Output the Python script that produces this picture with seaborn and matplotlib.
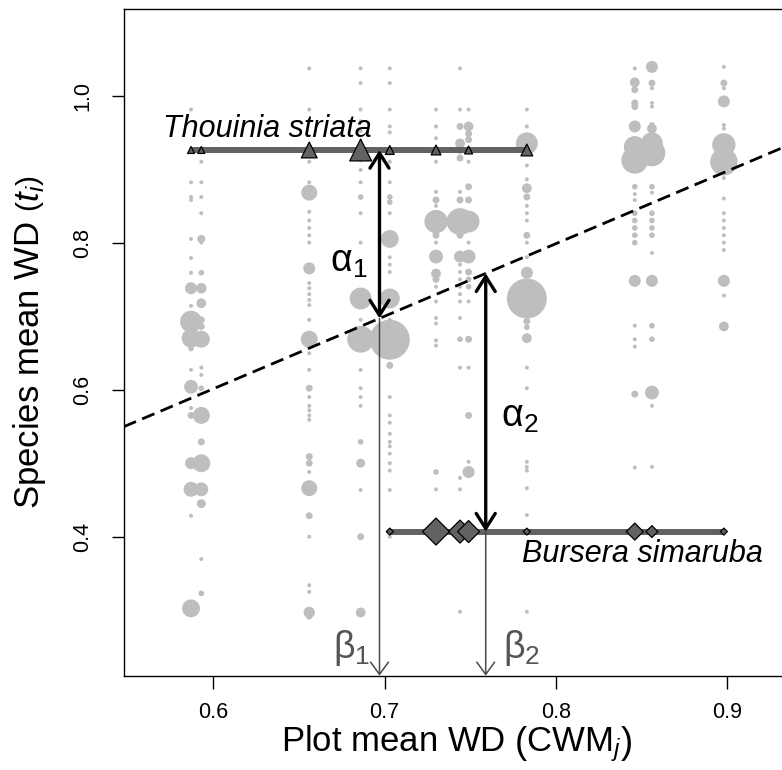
import matplotlib
matplotlib.use("Agg")
import matplotlib.pyplot as plt
import numpy as np
import pandas as pd
import seaborn as sns

# ---------------- data ----------------
plot_cwm = [0.587, 0.593, 0.656, 0.686, 0.703, 0.730, 0.744, 0.749, 0.783, 0.846, 0.856, 0.898]

wd_p01 = [0.981, 0.882, 0.862, 0.858, 0.805, 0.779, 0.759, 0.738, 0.714, 0.6925, 0.670, 0.656, 0.627, 0.604, 0.575, 0.565, 0.500, 0.4645, 0.4286, 0.3026]
ab_p01 = [1, 1, 1, 1, 1, 1, 1, 9, 1, 30, 22, 2, 1, 12, 1, 3, 9, 14, 1, 20]
wd_p02 = [0.910, 0.882, 0.862, 0.840, 0.805, 0.800, 0.759, 0.738, 0.7175, 0.695, 0.686, 0.6686, 0.630, 0.620, 0.602, 0.565, 0.529, 0.4999, 0.4645, 0.445, 0.3697, 0.323]
ab_p02 = [1, 1, 1, 1, 4, 1, 2, 7, 6, 3, 3, 18, 1, 1, 2, 18, 3, 20, 12, 5, 1, 2]
wd_p03 = [1.037, 0.981, 0.910, 0.882, 0.868, 0.842, 0.830, 0.820, 0.810, 0.800, 0.765, 0.745, 0.738, 0.730, 0.722, 0.715, 0.695, 0.6686, 0.6495, 0.627, 0.602, 0.590, 0.578, 0.572, 0.565, 0.559, 0.509, 0.500, 0.488, 0.466, 0.4286, 0.400, 0.334, 0.325, 0.297, 0.291]
ab_p03 = [1, 1, 1, 1, 16, 1, 1, 1, 1, 1, 9, 1, 1, 1, 1, 1, 1, 18, 1, 1, 3, 1, 1, 1, 1, 1, 3, 3, 1, 16, 3, 1, 1, 1, 8, 2]
wd_p04 = [1.037, 1.017, 0.981, 0.965, 0.952, 0.912, 0.899, 0.882, 0.862, 0.840, 0.800, 0.765, 0.724, 0.695, 0.6686, 0.627, 0.602, 0.590, 0.578, 0.529, 0.500, 0.4635, 0.400, 0.297]
ab_p04 = [1, 1, 1, 1, 1, 1, 1, 1, 2, 1, 1, 1, 30, 1, 45, 1, 1, 1, 1, 2, 5, 1, 3, 6]
wd_p05 = [1.037, 1.017, 0.981, 0.958, 0.950, 0.910, 0.882, 0.862, 0.855, 0.840, 0.805, 0.780, 0.770, 0.760, 0.724, 0.695, 0.668, 0.633, 0.590, 0.565, 0.555, 0.540, 0.529, 0.523, 0.513, 0.500, 0.490, 0.4635, 0.400]
ab_p05 = [1, 1, 1, 1, 1, 1, 1, 2, 2, 1, 20, 1, 1, 1, 25, 1, 100, 3, 1, 1, 1, 1, 1, 1, 1, 1, 1, 1, 1]
wd_p06 = [0.981, 0.958, 0.942, 0.910, 0.869, 0.858, 0.850, 0.838, 0.8286, 0.810, 0.800, 0.781, 0.758, 0.750, 0.740, 0.720, 0.6975, 0.690, 0.667, 0.660, 0.488, 0.4645]
ab_p06 = [1, 1, 1, 1, 1, 3, 1, 3, 34, 3, 1, 12, 6, 3, 1, 1, 1, 1, 1, 1, 2, 1]
wd_p07 = [1.037, 0.981, 0.958, 0.935, 0.925, 0.915, 0.869, 0.858, 0.8286, 0.810, 0.781, 0.770, 0.760, 0.750, 0.740, 0.730, 0.720, 0.6975, 0.6686, 0.630, 0.480, 0.4645, 0.298]
ab_p07 = [1, 1, 3, 6, 3, 3, 1, 3, 45, 3, 9, 1, 1, 1, 1, 1, 1, 1, 2, 1, 1, 1, 1]
wd_p08 = [0.981, 0.958, 0.948, 0.940, 0.910, 0.876, 0.858, 0.840, 0.8286, 0.800, 0.781, 0.760, 0.750, 0.740, 0.720, 0.6686, 0.630, 0.565, 0.502, 0.488]
ab_p08 = [1, 6, 3, 3, 1, 3, 3, 1, 30, 1, 12, 3, 2, 2, 1, 3, 1, 3, 1, 9]
wd_p09 = [0.981, 0.958, 0.935, 0.905, 0.886, 0.874, 0.862, 0.850, 0.840, 0.830, 0.810, 0.800, 0.780, 0.759, 0.724, 0.693, 0.685, 0.670, 0.630, 0.602, 0.502, 0.495, 0.490, 0.466, 0.4295, 0.298]
ab_p09 = [1, 1, 30, 1, 1, 6, 3, 1, 1, 1, 3, 1, 1, 9, 100, 3, 2, 6, 1, 1, 1, 1, 1, 1, 1, 1]
wd_p10 = [1.037, 1.018, 1.008, 0.990, 0.985, 0.958, 0.930, 0.912, 0.876, 0.866, 0.858, 0.840, 0.830, 0.820, 0.810, 0.800, 0.748, 0.687, 0.6686, 0.6585, 0.594, 0.494]
ab_p10 = [1, 6, 3, 3, 3, 9, 30, 45, 2, 1, 1, 2, 2, 2, 2, 2, 9, 1, 1, 1, 3, 1]
wd_p11 = [1.039, 1.017, 1.010, 0.990, 0.985, 0.960, 0.955, 0.935, 0.922, 0.876, 0.868, 0.840, 0.830, 0.820, 0.810, 0.786, 0.748, 0.687, 0.6686, 0.596, 0.578, 0.495]
ab_p11 = [9, 3, 1, 1, 1, 2, 6, 30, 45, 2, 1, 2, 2, 2, 2, 1, 9, 2, 2, 12, 1, 1]
wd_p12 = [1.039, 1.017, 1.010, 0.992, 0.960, 0.955, 0.933, 0.910, 0.888, 0.860, 0.840, 0.830, 0.820, 0.810, 0.800, 0.790, 0.748, 0.728, 0.686]
ab_p12 = [1, 3, 1, 9, 1, 1, 34, 47, 1, 1, 1, 1, 1, 1, 1, 1, 9, 1, 6]

thouinia_wd = 0.926
thouinia_cwm = [0.587, 0.593, 0.656, 0.686, 0.703, 0.730, 0.749, 0.783]
thouinia_ab = [1, 1, 5.2, 9.9, 1.65, 2.0, 1.3, 2.9]

bursera_wd = 0.407
bursera_cwm = [0.703, 0.730, 0.744, 0.749, 0.783, 0.846, 0.856, 0.898]
bursera_ab = [1, 14.9, 10.8, 9.9, 1, 5.9, 2.9, 1]

reg_intercept = 0.009
reg_slope = 0.987

alpha1_cwm = 0.697
alpha2_cwm = 0.759

x_ticks = [0.6, 0.7, 0.8, 0.9]
x_ticklabels = ["0.6", "0.7", "0.8", "0.9"]
y_ticks = [0.4, 0.6, 0.8, 1.0]
y_ticklabels = ["0.4", "0.6", "0.8", "1.0"]

wd_lists = [wd_p01, wd_p02, wd_p03, wd_p04, wd_p05, wd_p06, wd_p07, wd_p08, wd_p09, wd_p10, wd_p11, wd_p12]
ab_lists = [ab_p01, ab_p02, ab_p03, ab_p04, ab_p05, ab_p06, ab_p07, ab_p08, ab_p09, ab_p10, ab_p11, ab_p12]
rows = []
for cwm, wds, abs_ in zip(plot_cwm, wd_lists, ab_lists):
    for w, a in zip(wds, abs_):
        rows.append((cwm, w, a))
df = pd.DataFrame(rows, columns=["cwm", "wd", "abund"])
df_th = pd.DataFrame({"cwm": thouinia_cwm, "wd": thouinia_wd, "abund": thouinia_ab})
df_bu = pd.DataFrame({"cwm": bursera_cwm, "wd": bursera_wd, "abund": bursera_ab})

# ---------------- style ----------------
sns.set_theme(style="ticks")
plt.rcParams["font.family"] = ["Liberation Sans", "DejaVu Sans"]
plt.rcParams["mathtext.fontset"] = "custom"
plt.rcParams["mathtext.rm"] = "Liberation Sans"
plt.rcParams["mathtext.it"] = "Liberation Sans:italic"
plt.rcParams["mathtext.bf"] = "Liberation Sans:bold"
plt.rcParams["text.color"] = "black"
plt.rcParams["axes.labelcolor"] = "black"
plt.rcParams["xtick.color"] = "black"
plt.rcParams["ytick.color"] = "black"

W, H = 782, 770
fig = plt.figure(figsize=(W / 100, H / 100), dpi=100)
ax_l, ax_r, ax_t, ax_b = 123.7, 790.0, 8.8, 675.7
ax = fig.add_axes([ax_l / W, 1 - ax_b / H, (ax_r - ax_l) / W, (ax_b - ax_t) / H])

xlim = (0.5477, 0.9366)
ylim = (0.211, 1.118)

GREY = "#BEBEBE"
DARK = "#626262"

sns.scatterplot(data=df, x="cwm", y="wd", size="abund", sizes=(8.3, 829), size_norm=(1, 100),
                color=GREY, linewidth=0, legend=False, ax=ax, zorder=2)

ax.axline((0, reg_intercept), slope=reg_slope, color="black", lw=2.0, dashes=(4.8, 2.4), zorder=3)

ax.plot([min(thouinia_cwm), max(thouinia_cwm)], [thouinia_wd, thouinia_wd], color=DARK, lw=4.3,
        solid_capstyle="butt", zorder=4)
ax.plot([min(bursera_cwm), max(bursera_cwm)], [bursera_wd, bursera_wd], color=DARK, lw=4.3,
        solid_capstyle="butt", zorder=4)

sns.scatterplot(data=df_th, x="cwm", y="wd", size="abund", sizes=(25, 250), size_norm=(1, 10),
                marker="^", color=DARK, edgecolor="black", linewidth=0.9, legend=False, ax=ax, zorder=5)
sns.scatterplot(data=df_bu, x="cwm", y="wd", size="abund", sizes=(12.7, 189), size_norm=(1, 14.9),
                marker="D", color=DARK, edgecolor="black", linewidth=0.9, legend=False, ax=ax, zorder=5)

# beta arrows (grey, to x axis)
for xc in (alpha1_cwm, alpha2_cwm):
    ytop = reg_intercept + reg_slope * xc
    ax.annotate("", xy=(xc, ylim[0]), xytext=(xc, ytop),
                arrowprops=dict(arrowstyle="->,head_length=0.55,head_width=0.4", color="#4a4a4a",
                                lw=1.1, shrinkA=0, shrinkB=0, mutation_scale=16), zorder=6)

# alpha arrows (black, double)
for xc, ysp in ((alpha1_cwm, thouinia_wd), (alpha2_cwm, bursera_wd)):
    yl = reg_intercept + reg_slope * xc
    ax.annotate("", xy=(xc, ysp), xytext=(xc, yl),
                arrowprops=dict(arrowstyle="<->,head_length=0.6,head_width=0.38", color="black",
                                lw=2.4, shrinkA=0, shrinkB=0, mutation_scale=18), zorder=7)

ax.text(0.5706, 0.9438, "Thouinia striata", fontstyle="italic", fontsize=22, ha="left", va="baseline", zorder=8)
ax.text(0.780, 0.366, "Bursera simaruba", fontstyle="italic", fontsize=22, ha="left", va="baseline", zorder=8)
ax.text(0.668, 0.760, r"$\mathrm{\alpha}_1$", fontsize=27, ha="left", va="baseline", zorder=8)
ax.text(0.768, 0.5497, r"$\mathrm{\alpha}_2$", fontsize=27, ha="left", va="baseline", zorder=8)
ax.text(0.6697, 0.235, r"$\mathrm{\beta}_1$", fontsize=27, color="#555555", ha="left", va="baseline", zorder=8)
ax.text(0.7693, 0.235, r"$\mathrm{\beta}_2$", fontsize=27, color="#555555", ha="left", va="baseline", zorder=8)

ax.set_xlim(*xlim)
ax.set_ylim(*ylim)
ax.set_xticks(x_ticks)
ax.set_xticklabels(x_ticklabels)
ax.set_yticks(y_ticks)
ax.set_yticklabels(y_ticklabels, rotation=90, va="center")
ax.tick_params(axis="both", length=9, width=1, color="black", labelsize=15.5, labelcolor="black")
ax.tick_params(axis="x", pad=10)
ax.tick_params(axis="y", pad=13)

for side in ("left", "bottom", "top"):
    ax.spines[side].set_color("black")
    ax.spines[side].set_linewidth(1.0)
ax.spines["right"].set_visible(False)

ax.set_xlabel(r"Plot mean WD $\left(\mathrm{CWM}_j\right)$", fontsize=25, va="center", ha="center")
ax.set_ylabel(r"Species mean WD $\left(t_i\right)$", fontsize=25, va="center", ha="center")
ax.xaxis.set_label_coords(0.5, (ax_b - 744) / (ax_b - ax_t))
ax.yaxis.set_label_coords((30 - ax_l) / (ax_r - ax_l), 0.5)

fig.savefig("out.png", dpi=100)
